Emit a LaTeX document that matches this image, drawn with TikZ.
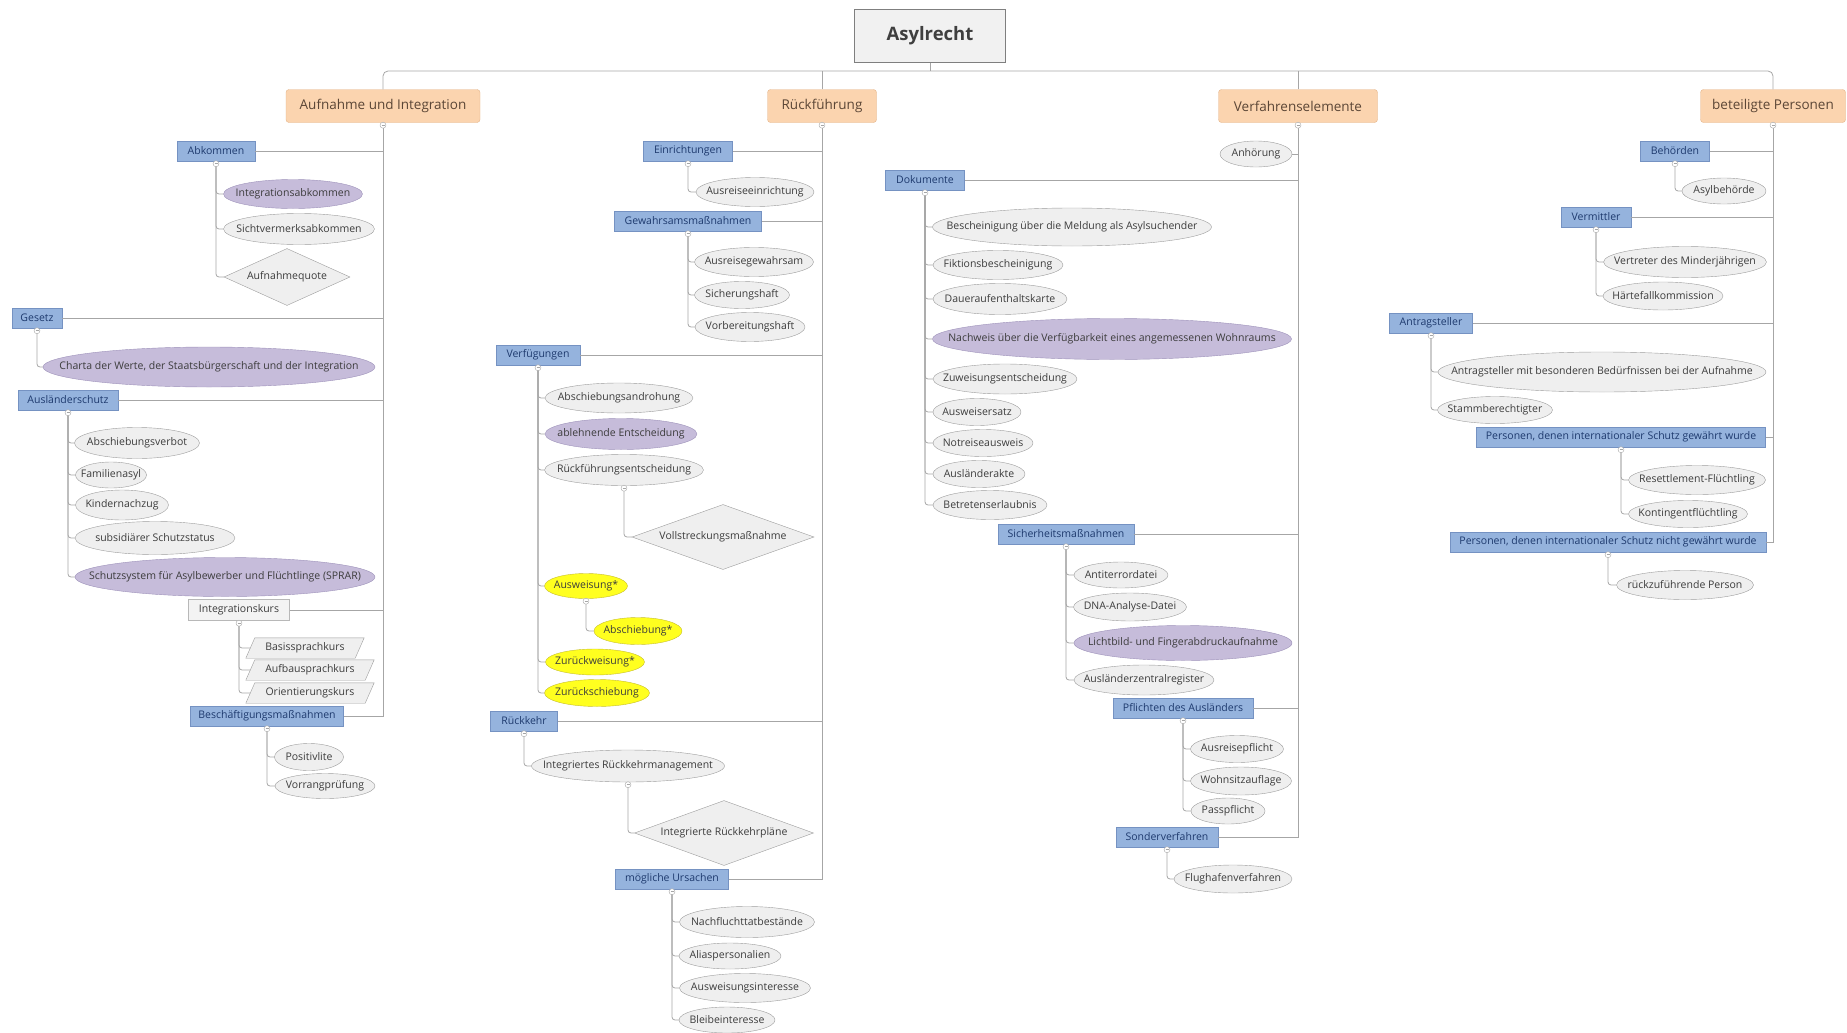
\documentclass[tikz,border=0pt]{standalone}
\usepackage{fontspec}
\setmainfont{Open Sans}
\usetikzlibrary{shapes.geometric,backgrounds}

\definecolor{linegray}{HTML}{A6A6A6}
\definecolor{txtgray}{HTML}{3C3C3C}
\definecolor{catfill}{HTML}{FBD4AF}
\definecolor{catdraw}{HTML}{E3B489}
\definecolor{cattext}{HTML}{5B4636}
\definecolor{bluefill}{HTML}{95B3DD}
\definecolor{bluedraw}{HTML}{7592C2}
\definecolor{bluetext}{HTML}{1E3A6E}
\definecolor{ellfill}{HTML}{EFEFEF}
\definecolor{elldraw}{HTML}{9C9C9C}
\definecolor{purpfill}{HTML}{C6BCDA}
\definecolor{purpdraw}{HTML}{9D91B9}
\definecolor{yellfill}{HTML}{FFFF1F}
\definecolor{yelldraw}{HTML}{C6BD2E}
\definecolor{plainfill}{HTML}{F3F3F3}
\definecolor{plaindraw}{HTML}{B8B8B8}
\definecolor{rootfill}{HTML}{F1F1F1}
\definecolor{rootdraw}{HTML}{7F7F7F}
\definecolor{roottext}{HTML}{3F3F3F}

\tikzset{
  base/.style={inner sep=0pt, text=txtgray, font=\fontsize{10.5}{12}\selectfont,
    execute at begin node={\hbox to 0pt\bgroup\hss},
    execute at end node={\hss\egroup}},
  sz/.style 2 args={minimum width=#1, minimum height=#2},
  root/.style={base, rectangle, draw=rootdraw, fill=rootfill, text=roottext,
    font=\fontsize{18.5}{22}\selectfont\bfseries},
  cat/.style={base, rectangle, rounded corners=3pt, draw=catdraw, fill=catfill,
    text=cattext, font=\fontsize{13.5}{16}\selectfont, minimum height=33},
  blue/.style={base, rectangle, draw=bluedraw, fill=bluefill, text=bluetext, minimum height=20},
  plain/.style={base, rectangle, draw=plaindraw, fill=plainfill, minimum height=21},
  grayell/.style={base, ellipse, draw=elldraw, fill=ellfill},
  purpell/.style={base, ellipse, draw=purpdraw, fill=purpfill},
  yellell/.style={base, ellipse, draw=yelldraw, fill=yellfill},
  dia/.style={base, diamond, draw=elldraw, fill=ellfill},
  para/.style={base, rectangle, minimum height=20},
  parabox/.style={draw=elldraw, fill=ellfill},
  conn/.style={draw=linegray, line width=0.8pt},
  marker/.style={circle, draw=linegray, fill=white, inner sep=0pt, minimum size=6,
    path picture={\draw[linegray, line width=0.5pt]
      ([xshift=-1.5pt]path picture bounding box.center) --
      ([xshift=1.5pt]path picture bounding box.center);}}
}

\begin{document}
\begin{tikzpicture}[x=1pt, y=-1pt]

  \useasboundingbox (0,0) rectangle (1847,1033);

  % Define nodes
  \node[root, sz={151}{53}]            (asyl)  at (930,36)   {Asylrecht};
  \node[cat, minimum width=194]        (aui)   at (383,106)  {Aufnahme und Integration};
  \node[cat, minimum width=109]        (rf)    at (822,106)  {Rückführung};
  \node[cat, minimum width=159]        (ve)    at (1298,106) {Verfahrenselemente};
  \node[cat, minimum width=145]        (bp)    at (1773,106) {beteiligte Personen};

  % Aufnahme und Integration
  \node[blue, minimum width=78]        (abk)   at (216,151)  {Abkommen};
  \node[purpell, sz={139}{29}]         (iabk)  at (293,194)  {Integrationsabkommen};
  \node[grayell, sz={151}{31}]         (sva)   at (299,229)  {Sichtvermerksabkommen};
  \node[dia, sz={126}{57}]             (quote) at (287,277)  {Aufnahmequote};
  \node[blue, minimum width=50]        (ges)   at (37,318)   {Gesetz};
  \node[purpell, sz={332}{40}]         (charta) at (209,367) {Charta der Werte, der Staatsbürgerschaft und der Integration};
  \node[blue, minimum width=100]       (ausl)  at (68,400)   {Ausländerschutz};
  \node[grayell, sz={125}{31}]         (abv)   at (137,443)  {Abschiebungsverbot};
  \node[grayell, sz={71}{26}]          (fam)   at (111,475)  {Familienasyl};
  \node[grayell, sz={93}{30}]          (kind)  at (122,505)  {Kindernachzug};
  \node[grayell, sz={160}{33}]         (subs)  at (155,538)  {subsidiärer Schutzstatus};
  \node[purpell, sz={300}{39}]         (sprar) at (225,577)  {Schutzsystem für Asylbewerber und Flüchtlinge (SPRAR)};
  \node[plain, minimum width=101]      (ikurs) at (239,610)  {Integrationskurs};
  \node[para, minimum width=109]       (basis) at (305,648)  {Basissprachkurs};
  \node[para, minimum width=119]       (aufb)  at (310,670)  {Aufbausprachkurs};
  \node[para, minimum width=119]       (orient) at (310,693) {Orientierungskurs};
  \node[blue, minimum width=153]       (besch) at (267,716)  {Beschäftigungsmaßnahmen};
  \node[grayell, sz={69}{27}]          (posi)  at (309,757)  {Positivlite};
  \node[grayell, sz={100}{25}]         (vorr)  at (325,786)  {Vorrangprüfung};

  % Rückführung
  \node[blue, minimum width=89]        (einr)  at (688,151)  {Einrichtungen};
  \node[grayell, sz={118}{29}]         (arein) at (755,192)  {Ausreiseeinrichtung};
  \node[blue, minimum width=147]       (gew)   at (688,221)  {Gewahrsamsmaßnahmen};
  \node[grayell, sz={119}{29}]         (agew)  at (754,262)  {Ausreisegewahrsam};
  \node[grayell, sz={95}{27}]          (shaft) at (742,295)  {Sicherungshaft};
  \node[grayell, sz={110}{29}]         (vhaft) at (750,327)  {Vorbereitungshaft};
  \node[blue, minimum width=84]        (verf)  at (538,355)  {Verfügungen};
  \node[grayell, sz={148}{30}]         (abdr)  at (619,398)  {Abschiebungsandrohung};
  \node[purpell, sz={152}{31}]         (ablE)  at (621,434)  {ablehnende Entscheidung};
  \node[grayell, sz={159}{31}]         (rfe)   at (624,470)  {Rückführungsentscheidung};
  \node[dia, sz={182}{65}]             (vollst) at (723,537) {Vollstreckungsmaßnahme};
  \node[yellell, sz={83}{25}]          (ausw)  at (586,586)  {Ausweisung*};
  \node[yellell, sz={88}{27}]          (absch) at (638,631)  {Abschiebung*};
  \node[yellell, sz={99}{26}]          (zurw)  at (595,662)  {Zurückweisung*};
  \node[yellell, sz={105}{27}]         (zurs)  at (597,693)  {Zurückschiebung};
  \node[blue, minimum width=67]        (rueck) at (524,721)  {Rückkehr};
  \node[grayell, sz={193}{32}]         (irm)   at (628,766)  {Integriertes Rückkehrmanagement};
  \node[dia, sz={179}{65}]             (irp)   at (724,833)  {Integrierte Rückkehrpläne};
  \node[blue, minimum width=113]       (ursa)  at (672,879)  {mögliche Ursachen};
  \node[grayell, sz={135}{31}]         (nft)   at (747,922)  {Nachfluchttatbestände};
  \node[grayell, sz={102}{26}]         (alias) at (730,956)  {Aliaspersonalien};
  \node[grayell, sz={131}{29}]         (awi)   at (745,988)  {Ausweisungsinteresse};
  \node[grayell, sz={96}{26}]          (bleib) at (727,1020) {Bleibeinteresse};

  % Verfahrenselemente
  \node[grayell, sz={72}{26}]          (anh)   at (1256,154) {Anhörung};
  \node[blue, minimum width=79]        (dok)   at (925,180)  {Dokumente};
  \node[grayell, sz={279}{38}]         (bsch)  at (1072,227) {Bescheinigung über die Meldung als Asylsuchender};
  \node[grayell, sz={130}{29}]         (fikt)  at (998,265)  {Fiktionsbescheinigung};
  \node[grayell, sz={134}{31}]         (dauer) at (1000,299) {Daueraufenthaltskarte};
  \node[purpell, sz={359}{41}]         (nachw) at (1112,339) {Nachweis über die Verfügbarkeit eines angemessenen Wohnraums};
  \node[grayell, sz={144}{30}]         (zuw)   at (1005,379) {Zuweisungsentscheidung};
  \node[grayell, sz={88}{27}]          (ersatz) at (977,412) {Ausweisersatz};
  \node[grayell, sz={100}{27}]         (notr)  at (983,443)  {Notreiseausweis};
  \node[grayell, sz={92}{27}]          (akte)  at (979,474)  {Ausländerakte};
  \node[grayell, sz={114}{29}]         (betr)  at (990,505)  {Betretenserlaubnis};
  \node[blue, minimum width=136]       (sich)  at (1066,534) {Sicherheitsmaßnahmen};
  \node[grayell, sz={94}{26}]          (anti)  at (1121,575) {Antiterrordatei};
  \node[grayell, sz={113}{28}]         (dna)   at (1130,607) {DNA-Analyse-Datei};
  \node[purpell, sz={218}{35}]         (licht) at (1183,643) {Lichtbild- und Fingerabdruckaufnahme};
  \node[grayell, sz={140}{30}]         (azr)   at (1144,680) {Ausländerzentralregister};
  \node[blue, minimum width=140]       (pfl)   at (1183,708) {Pflichten des Ausländers};
  \node[grayell, sz={93}{27}]          (arpfl) at (1237,749) {Ausreisepflicht};
  \node[grayell, sz={101}{28}]         (wohn)  at (1241,781) {Wohnsitzauflage};
  \node[grayell, sz={74}{26}]          (pass)  at (1228,811) {Passpflicht};
  \node[blue, minimum width=102]       (sond)  at (1167,837) {Sonderverfahren};
  \node[grayell, sz={118}{28}]         (flug)  at (1233,879) {Flughafenverfahren};

  % beteiligte Personen
  \node[blue, minimum width=69]        (beh)   at (1675,151) {Behörden};
  \node[grayell, sz={84}{26}]          (asylb) at (1724,191) {Asylbehörde};
  \node[blue, minimum width=70]        (verm)  at (1596,217) {Vermittler};
  \node[grayell, sz={163}{31}]         (vertr) at (1685,262) {Vertreter des Minderjährigen};
  \node[grayell, sz={120}{28}]         (haerte) at (1663,296) {Härtefallkommission};
  \node[blue, minimum width=83]        (antr)  at (1431,323) {Antragsteller};
  \node[grayell, sz={328}{40}]         (abes)  at (1602,372) {Antragsteller mit besonderen Bedürfnissen bei der Aufnahme};
  \node[grayell, sz={115}{27}]         (stamm) at (1495,410) {Stammberechtigter};
  \node[blue, minimum width=289]       (pgew)  at (1621,437) {Personen, denen internationaler Schutz gewährt wurde};
  \node[grayell, sz={137}{29}]         (reset) at (1697,480) {Resettlement-Flüchtling};
  \node[grayell, sz={119}{27}]         (konti) at (1688,514) {Kontingentflüchtling};
  \node[blue, minimum width=316]       (pnicht) at (1608,542) {Personen, denen internationaler Schutz nicht gewährt wurde};
  \node[grayell, sz={137}{29}]         (rzp)   at (1685,585) {rückzuführende Person};

  % Parallelograms behind the course nodes
  \begin{scope}[on background layer]
    \foreach \q in {basis,aufb,orient}
      \filldraw[parabox] ([xshift=-4.5pt]\q.south west) -- ([xshift=-4.5pt]\q.south east)
        -- ([xshift=4.5pt]\q.north east) -- ([xshift=4.5pt]\q.north west) -- cycle;
  \end{scope}

  % Connect the nodes
  \coordinate (bus) at (930,71);
  \draw[conn] (asyl.south) -- (bus);
  \draw[conn, rounded corners=5pt] (aui.north) |- (bus) -| (bp.north);
  \foreach \k in {rf,ve}
    \draw[conn] (\k.north) -- (\k.north |- bus);

  \draw[conn] (aui.south) |- (besch.east);
  \draw[conn] (rf.south) |- (ursa.east);
  \draw[conn] (ve.south) |- (sond.east);
  \draw[conn] (bp.south) |- (pnicht.east);
  \foreach \k/\c in {aui/abk, aui/ges, aui/ausl, aui/ikurs,
                     rf/einr, rf/gew, rf/verf, rf/rueck,
                     ve/anh, ve/dok, ve/sich, ve/pfl,
                     bp/beh, bp/verm, bp/antr, bp/pgew}
    \draw[conn] (\c.east) -- (\c.east -| \k.south);

  \foreach \p/\cs in {abk/{iabk,sva,quote}, ges/{charta},
                      ausl/{abv,fam,kind,subs,sprar}, ikurs/{basis,aufb,orient},
                      besch/{posi,vorr}, einr/{arein}, gew/{agew,shaft,vhaft},
                      verf/{abdr,ablE,rfe,ausw,zurw,zurs}, rfe/{vollst}, ausw/{absch},
                      rueck/{irm}, irm/{irp}, ursa/{nft,alias,awi,bleib},
                      dok/{bsch,fikt,dauer,nachw,zuw,ersatz,notr,akte,betr},
                      sich/{anti,dna,licht,azr}, pfl/{arpfl,wohn,pass}, sond/{flug},
                      beh/{asylb}, verm/{vertr,haerte}, antr/{abes,stamm},
                      pgew/{reset,konti}, pnicht/{rzp}}
    \foreach \c in \cs
      \draw[conn, rounded corners=3pt] (\p.south) |- (\c.west);

  % Collapse markers
  \foreach \p in {aui,rf,ve,bp,abk,ges,ausl,ikurs,besch,einr,gew,verf,rfe,ausw,
                  rueck,irm,ursa,dok,sich,pfl,sond,beh,verm,antr,pgew,pnicht}
    \node[marker] at ([yshift=-2.5pt]\p.south) {};

\end{tikzpicture}
\end{document}
